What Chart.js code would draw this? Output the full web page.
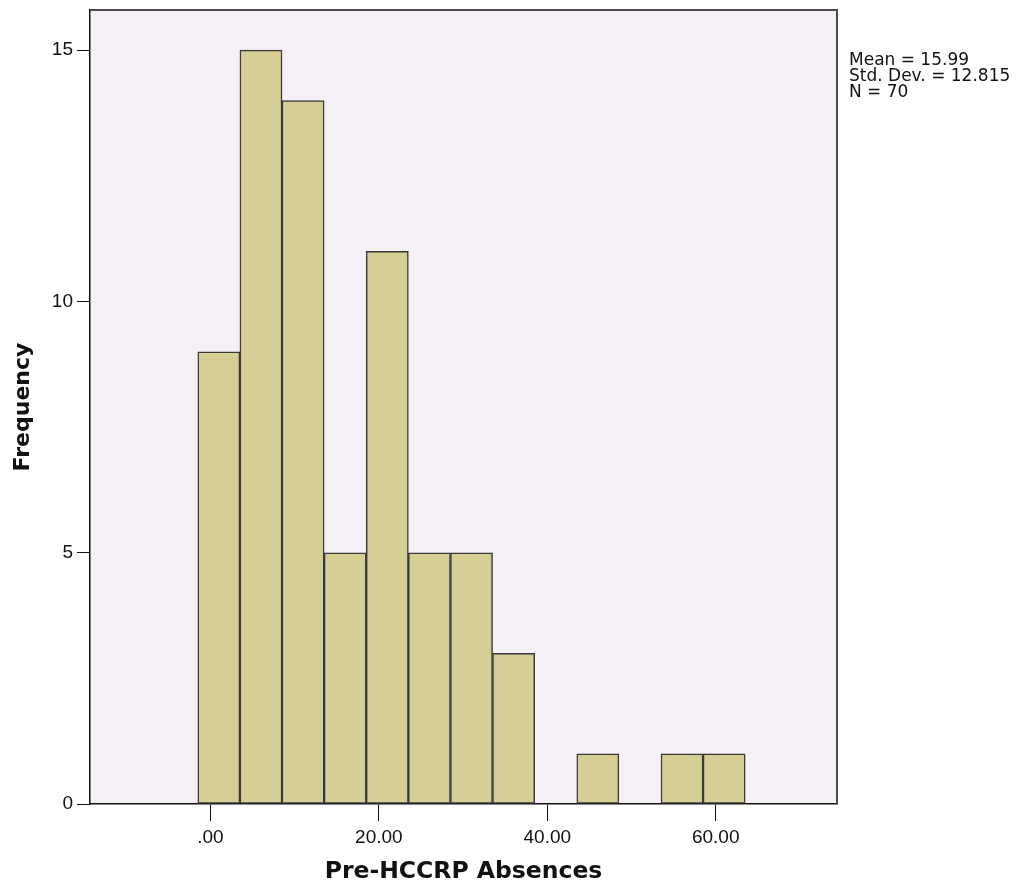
<!DOCTYPE html>
<html>
<head>
<meta charset="utf-8">
<script src="https://cdn.jsdelivr.net/npm/chart.js@4"></script>
<style>
  html, body { margin: 0; padding: 0; background: #fff; }
  #wrap { width: 1016px; height: 886px; }
</style>
</head>
<body>
<div id="wrap"><canvas id="histo"></canvas></div>
<script>
// ─── Data ─────────────────────────────────────────────────
const binCenters  = [1, 6, 11, 16, 21, 26, 31, 36, 46, 56, 61];
const frequencies = [9, 15, 14, 5, 11, 5, 5, 3, 1, 1, 1];
const xTickValues = [0, 20, 40, 60];
const yTickValues = [0, 5, 10, 15];
const statsLines  = ['Mean = 15.99', 'Std. Dev. = 12.815', 'N = 70'];

const PLOT_BG    = '#f6f1f6';
const BAR_FILL   = '#d6ce95';
const BAR_EDGE   = '#3a3a3a';
const AXIS_COLOR = '#111';
const FONT       = "'Liberation Sans', Arial, sans-serif";
const WIDE_FONT  = "'DejaVu Sans', Verdana, sans-serif";

// background + frame around the plot area, stats box on the right
const frame = {
  id: 'frame',
  beforeDraw(chart) {
    const { ctx, chartArea: a } = chart;
    ctx.save();
    ctx.fillStyle = PLOT_BG;
    ctx.fillRect(a.left, a.top, a.right - a.left, a.bottom - a.top);
    ctx.restore();
  },
  afterDraw(chart) {
    const { ctx, chartArea: a } = chart;
    ctx.save();
    ctx.strokeStyle = '#4a4a4a';
    ctx.lineWidth = 2;
    ctx.beginPath();
    ctx.moveTo(a.left, a.top);
    ctx.lineTo(a.right, a.top);
    ctx.lineTo(a.right, a.bottom);
    ctx.stroke();

    ctx.fillStyle = '#111';
    ctx.font = '17px ' + WIDE_FONT;
    ctx.textBaseline = 'alphabetic';
    statsLines.forEach((s, i) => ctx.fillText(s, a.right + 12, 65 + i * 16));
    ctx.restore();
  },
};

new Chart(document.getElementById('histo'), {
  type: 'bar',
  data: {
    datasets: [{
      label: 'Frequency',
      data: binCenters.map((c, i) => ({ x: c, y: frequencies[i] })),
      backgroundColor: BAR_FILL,
      borderColor: BAR_EDGE,
      borderWidth: 1.5,
      borderSkipped: false,
      barPercentage: 1,
      categoryPercentage: 1,
    }],
  },
  options: {
    responsive: true,
    maintainAspectRatio: false,
    animation: false,
    layout: { padding: { left: 0, right: 179, top: 10, bottom: 0 } },
    plugins: {
      legend: { display: false },
      tooltip: { enabled: false },
    },
    scales: {
      x: {
        type: 'linear',
        offset: false,
        min: -14.3,
        max: 74.4,
        afterBuildTicks: s => { s.ticks = xTickValues.map(v => ({ value: v })); },
        afterFit: s => { s.height = 82; s.paddingLeft = 0; s.paddingRight = 0; },
        ticks: {
          color: AXIS_COLOR,
          font: { family: FONT, size: 19 },
          padding: 5,
          maxRotation: 0,
          callback: v => (v === 0 ? '.00' : v.toFixed(2)),
        },
        grid: { offset: false, drawOnChartArea: false, drawTicks: true, tickLength: 17, color: AXIS_COLOR },
        border: { display: true, color: AXIS_COLOR, width: 1.5 },
        title: {
          display: true,
          text: 'Pre-HCCRP Absences',
          color: '#111',
          font: { family: WIDE_FONT, size: 23.5, weight: 'bold' },
          padding: { top: 0, bottom: 0 },
        },
      },
      y: {
        min: 0,
        max: 15.8,
        afterBuildTicks: s => { s.ticks = yTickValues.map(v => ({ value: v })); },
        afterFit: s => { s.width = 90; s.paddingTop = 0; s.paddingBottom = 0; },
        ticks: {
          color: AXIS_COLOR,
          font: { family: FONT, size: 19 },
          padding: 4,
        },
        grid: { drawOnChartArea: false, drawTicks: true, tickLength: 13, color: AXIS_COLOR },
        border: { display: true, color: AXIS_COLOR, width: 1.5 },
        title: {
          display: true,
          text: 'Frequency',
          color: '#111',
          font: { family: WIDE_FONT, size: 22, weight: 'bold' },
          padding: { top: 10, bottom: 0 },
        },
      },
    },
  },
  plugins: [frame],
});
</script>
</body>
</html>
